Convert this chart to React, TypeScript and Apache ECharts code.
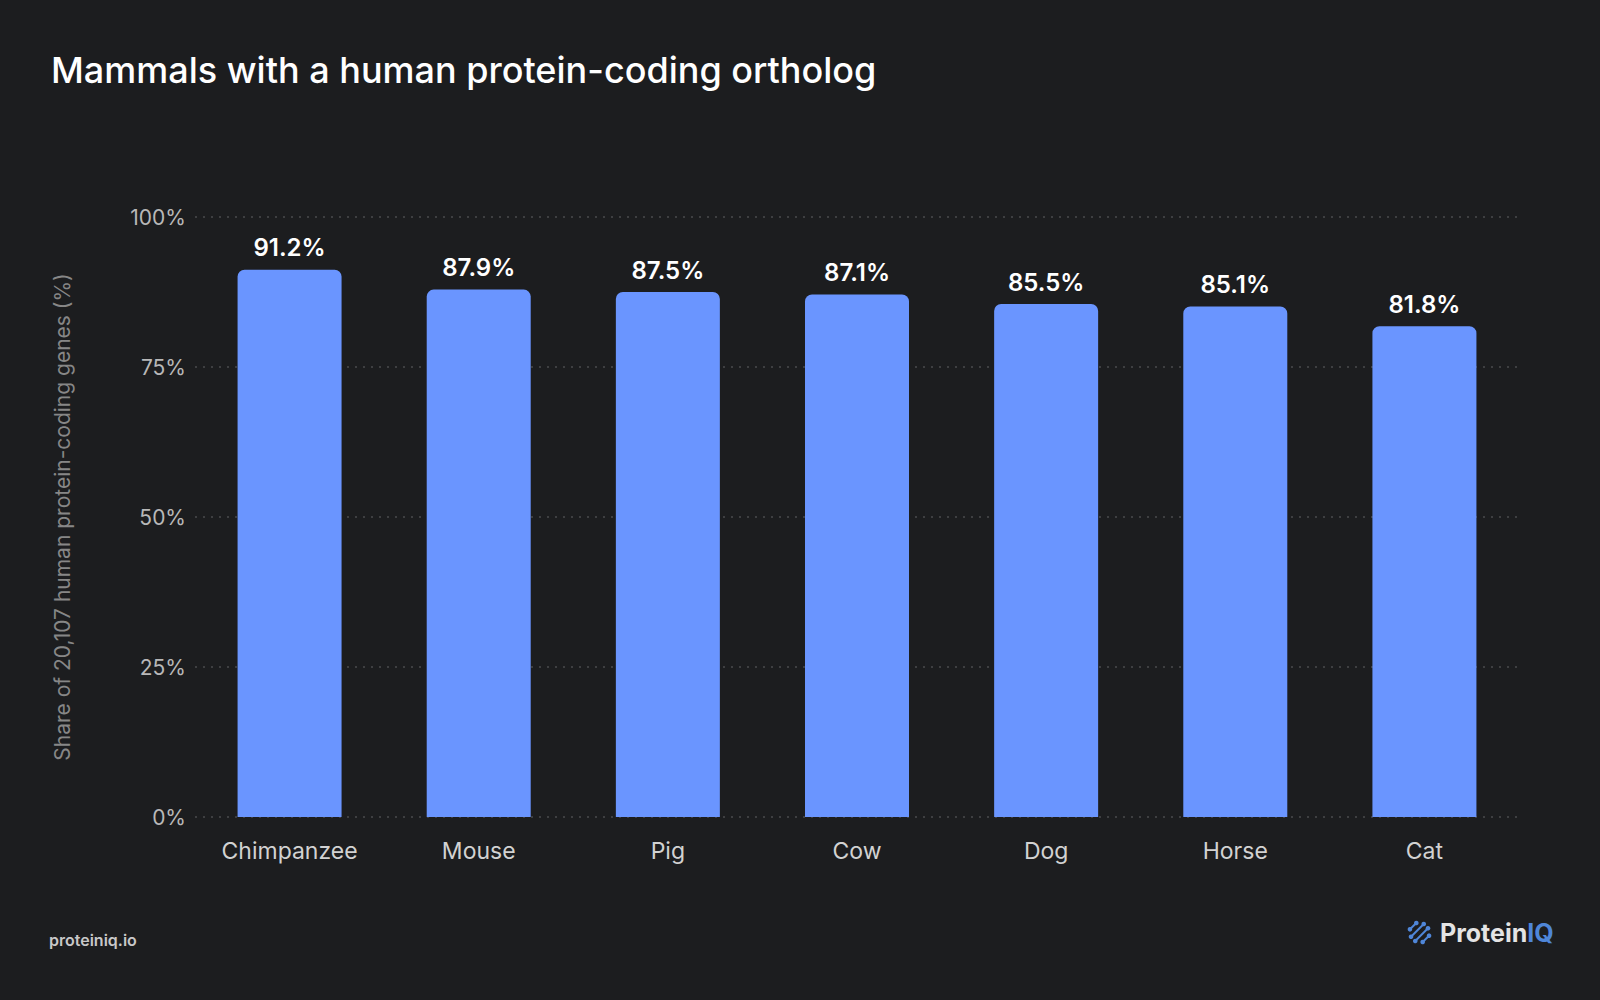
import { useEffect, useRef } from 'react'
import * as echarts from 'echarts'

const species = ['Chimpanzee', 'Mouse', 'Pig', 'Cow', 'Dog', 'Horse', 'Cat']
const orthologShare = [91.2, 87.9, 87.5, 87.1, 85.5, 85.1, 81.8]
const yTicks = [0, 25, 50, 75, 100]

const FONT = 'Inter, "Noto Sans", "Liberation Sans", sans-serif'

// logo glyph: four diagonal strokes, dots at both ends
function logoMark(cx: number, cy: number) {
  const items: any[] = []
  const offsets = [-9, -3, 3, 9]
  const halfLens = [4.5, 9, 9, 4.5]
  const d = Math.SQRT1_2
  offsets.forEach((o, i) => {
    const mx = cx + o * d
    const my = cy + o * d
    const h = halfLens[i]
    const x1 = mx - h * d
    const y1 = my + h * d
    const x2 = mx + h * d
    const y2 = my - h * d
    items.push({
      type: 'line',
      shape: { x1, y1, x2, y2 },
      style: { stroke: '#4f86d8', lineWidth: 2, lineCap: 'round' }
    })
    items.push({ type: 'circle', shape: { cx: x1, cy: y1, r: 2.3 }, style: { fill: '#4f86d8' } })
    items.push({ type: 'circle', shape: { cx: x2, cy: y2, r: 2.3 }, style: { fill: '#4f86d8' } })
  })
  return items
}

export default function App() {
  const chartRef = useRef<HTMLDivElement>(null)

  useEffect(() => {
    document.body.style.margin = '0'
    if (!chartRef.current) return
    const chart = echarts.init(chartRef.current, null, { renderer: 'svg' })

    const option: any = {
      animation: false,
      backgroundColor: '#1c1d1f',
      textStyle: { fontFamily: FONT },
      title: {
        text: 'Mammals with a human protein-coding ortholog',
        left: 46,
        top: 47,
        textStyle: {
          color: '#ffffff',
          fontSize: 36,
          fontWeight: 500,
          fontFamily: FONT
        }
      },
      grid: {
        left: 195,
        right: 81,
        top: 217,
        bottom: 183,
        containLabel: false
      },
      xAxis: {
        type: 'category',
        data: species,
        axisLine: { show: false },
        axisTick: { show: false },
        axisLabel: {
          color: '#d2d2d2',
          fontSize: 23,
          margin: 22,
          fontFamily: FONT
        }
      },
      yAxis: {
        type: 'value',
        min: yTicks[0],
        max: yTicks[yTicks.length - 1],
        interval: 25,
        name: 'Share of 20,107 human protein-coding genes (%)',
        nameLocation: 'middle',
        nameGap: 122,
        nameTextStyle: {
          color: '#878787',
          fontSize: 21,
          fontFamily: FONT
        },
        axisLine: { show: false },
        axisTick: { show: false },
        axisLabel: {
          color: '#b8b8b8',
          fontSize: 21,
          margin: 9,
          fontFamily: FONT,
          formatter: (v: number) => `${v}%`
        },
        splitLine: {
          lineStyle: {
            color: '#4a4b4e',
            width: 1.5,
            type: [2, 6]
          }
        }
      },
      series: [
        {
          type: 'bar',
          data: orthologShare,
          barWidth: 104,
          itemStyle: {
            color: '#6a95ff',
            borderRadius: [7, 7, 0, 0]
          },
          label: {
            show: true,
            position: 'top',
            distance: 10,
            color: '#ffffff',
            fontSize: 24,
            fontWeight: 600,
            fontFamily: FONT,
            formatter: (p: any) => `${p.value.toFixed(1)}%`
          }
        }
      ],
      graphic: [
        {
          type: 'text',
          left: 49,
          top: 932,
          style: {
            text: 'proteiniq.io',
            fill: '#c8c8c8',
            font: `600 16px ${FONT}`
          }
        },
        {
          type: 'group',
          children: logoMark(1419.5, 932.5)
        },
        {
          type: 'text',
          x: 1440,
          y: 932.5,
          style: {
            text: '{a|Protein}{b|IQ}',
            verticalAlign: 'middle',
            rich: {
              a: { fill: '#e4e4e4', fontSize: 25, fontWeight: 700, fontFamily: FONT },
              b: { fill: '#4f86d8', fontSize: 25, fontWeight: 700, fontFamily: FONT }
            }
          }
        }
      ]
    }

    chart.setOption(option)

    return () => {
      chart.dispose()
    }
  }, [])

  return <div ref={chartRef} style={{ width: 1600, height: 1000 }} />
}
